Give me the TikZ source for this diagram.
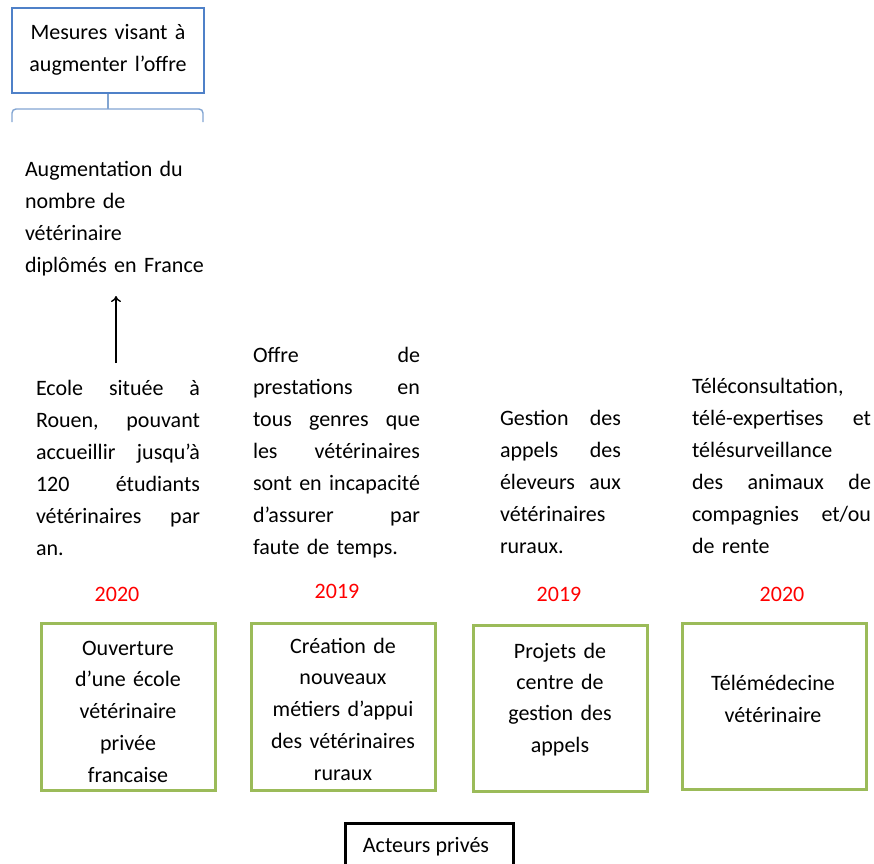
\documentclass[tikz,border=0pt]{standalone}
\usepackage{fontspec}
\setmainfont{Carlito}
\usetikzlibrary{arrows.meta}
\definecolor{bluebox}{RGB}{79,129,200}
\definecolor{bracecol}{RGB}{130,165,210}
\definecolor{greenbox}{RGB}{155,187,89}
\definecolor{yearred}{RGB}{255,0,0}
\newcommand\JL[2]{\makebox[#1][s]{\spaceskip=0.23em plus 1fil\relax #2}}
\tikzset{
  txt/.style={inner sep=0pt, outer sep=0pt, font={\fontsize{22}{32}\selectfont}},
  coltxt/.style={txt, anchor=base west, align=left},
  boxtxt/.style={txt, anchor=base, align=center, text width=176pt},
  year/.style={inner sep=0pt, anchor=base, text=yearred, font={\fontsize{22}{26}\selectfont}},
  gbox/.style={draw=greenbox, line width=3pt, inner sep=0pt},
}
\begin{document}
\begin{tikzpicture}[x=1pt,y=-1pt]
\useasboundingbox (0,0) rectangle (874,863);
\clip (0,0) rectangle (874,863);
% top box
\node[draw=bluebox, line width=2.6pt, minimum width=192pt, minimum height=85pt, inner sep=0pt] (top) at (108,50.5) {};
\node[boxtxt] (toptxt) at (108,39) {\fontsize{22}{31}\selectfont Mesures visant à\\augmenter l’offre};
% brace
\coordinate (braceL) at (12,122);
\coordinate (braceR) at (203,122);
\draw[bracecol, line width=1.4pt, rounded corners=4pt] (braceL) -- (12,109) -- (203,109) -- (braceR);
\draw[bracecol, line width=1.4pt] (top.south) -- (108,109);
% augmentation text
\node[coltxt, text width=200pt] (aug) at (25,176) {Augmentation du\\nombre de\\vétérinaire\\diplômés en France};
% arrow
\coordinate (atail) at (116,363);
\coordinate (ahead) at (116,296);
\draw[-{To[length=6pt,width=10pt]}, line width=1.4pt] (atail) -- (ahead);
% columns
\node[coltxt, text width=164pt] (c1) at (36,395) {\JL{164pt}{Ecole située à}\\\JL{164pt}{Rouen, pouvant}\\\JL{164pt}{accueillir jusqu’à}\\\JL{164pt}{120 étudiants}\\\JL{164pt}{vétérinaires par}\\an.};
\node[coltxt, text width=167pt] (c2) at (253,362) {\JL{167pt}{Offre de}\\\JL{167pt}{prestations en}\\\JL{167pt}{tous genres que}\\\JL{167pt}{les vétérinaires}\\\JL{167pt}{sont en incapacité}\\\JL{167pt}{d’assurer par}\\faute de temps.};
\node[coltxt, text width=121pt] (c3) at (500,425) {\JL{121pt}{Gestion des}\\\JL{121pt}{appels des}\\\JL{121pt}{éleveurs aux}\\vétérinaires\\ruraux.};
\node[coltxt, text width=179pt] (c4) at (692,393) {Téléconsultation,\\\JL{179pt}{télé-expertises et}\\télésurveillance\\\JL{179pt}{des animaux de}\\\JL{179pt}{compagnies et/ou}\\de rente};
% years
\node[year] (y1) at (117,601) {2020};
\node[year] (y2) at (337,598) {2019};
\node[year] (y3) at (559,601) {2019};
\node[year] (y4) at (782,601) {2020};
% green boxes
\node[gbox, minimum width=174pt, minimum height=167pt] (b1) at (128,706.5) {};
\node[gbox, minimum width=184pt, minimum height=167pt] (b2) at (343,706.5) {};
\node[gbox, minimum width=174pt, minimum height=166pt] (b3) at (560,708) {};
\node[gbox, minimum width=184pt, minimum height=166pt] (b4) at (774,706) {};
\node[boxtxt] (t1) at (128,655) {\fontsize{22}{31.8}\selectfont Ouverture\\d’une école\\vétérinaire\\privée\\francaise};
\node[boxtxt] (t2) at (343,653) {\fontsize{22}{31.8}\selectfont Création de\\nouveaux\\métiers d’appui\\des vétérinaires\\ruraux};
\node[boxtxt] (t3) at (560,658) {\fontsize{22}{31.3}\selectfont Projets de\\centre de\\gestion des\\appels};
\node[boxtxt] (t4) at (773,690) {\fontsize{22}{27}\selectfont Télémédecine\\vétérinaire};
% bottom box
\node[draw=black, line width=3pt, minimum width=168pt, minimum height=60pt, inner sep=0pt] (act) at (429,853) {};
\node[txt, anchor=base] (acttxt) at (426,852) {Acteurs privés};
\end{tikzpicture}
\end{document}
